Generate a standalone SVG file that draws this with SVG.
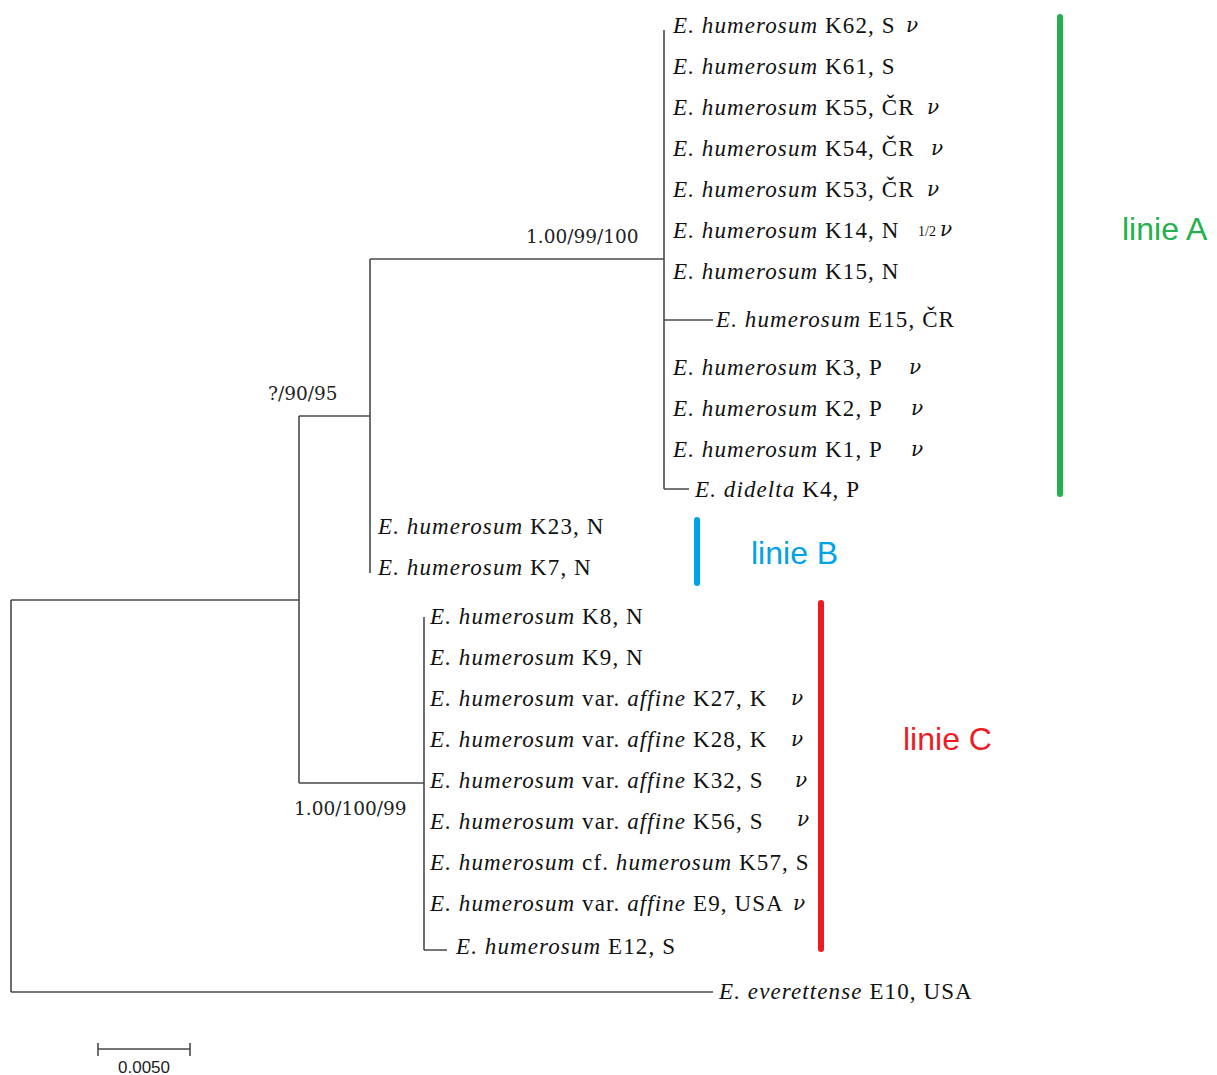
<svg xmlns="http://www.w3.org/2000/svg" width="1217" height="1075" viewBox="0 0 1217 1075">
<style>
.br{stroke:#4a4a4a;stroke-width:1.6;fill:none}
.t{font-family:"Liberation Serif","Times New Roman",serif;font-size:23px;letter-spacing:1.1px;fill:#111}
.t tspan.i{font-style:italic}
.nu{font-family:"DejaVu Serif",serif;font-size:20px;font-style:italic;fill:#111}
.half{font-family:"Liberation Serif","Times New Roman",serif;font-size:14px;fill:#111}
.sup{font-family:"DejaVu Serif",serif;font-size:18.5px;fill:#222}
.ln{font-family:"Liberation Sans",Arial,sans-serif;font-size:32px}
.bar{stroke-width:6;stroke-linecap:round}
</style>
<rect width="1217" height="1075" fill="#fff"/>
<g id="connectors">
<path class="br" d="M11,600 V992 M11,600 H299 M11,992 H713"/>
<path class="br" d="M299,416 V783 M299,416 H370 M299,783 H424"/>
<path class="br" d="M370,259 V573 M370,259 H664"/>
<path class="br" d="M664,30 V489 M664,320 H713 M664,489 H689"/>
<path class="br" d="M424,617 V950 M424,950 H447"/>
</g>
<g id="supports">
<text class="sup" x="526" y="243">1.00/99/100</text>
<text class="sup" x="268" y="400">?/90/95</text>
<text class="sup" x="294" y="815">1.00/100/99</text>
</g>
<g id="cladeA">
<text class="t" x="673" y="33"><tspan class="i">E. humerosum</tspan> K62, S</text>
<text class="nu" x="906" y="32">ν</text>
<text class="t" x="673" y="74"><tspan class="i">E. humerosum</tspan> K61, S</text>
<text class="t" x="673" y="115"><tspan class="i">E. humerosum</tspan> K55, ČR</text>
<text class="nu" x="927" y="114">ν</text>
<text class="t" x="673" y="156"><tspan class="i">E. humerosum</tspan> K54, ČR</text>
<text class="nu" x="931" y="155">ν</text>
<text class="t" x="673" y="197"><tspan class="i">E. humerosum</tspan> K53, ČR</text>
<text class="nu" x="927" y="196">ν</text>
<text class="t" x="673" y="238"><tspan class="i">E. humerosum</tspan> K14, N</text>
<text class="half" x="918" y="236">1/2</text>
<text class="nu" x="940" y="236">ν</text>
<text class="t" x="673" y="279"><tspan class="i">E. humerosum</tspan> K15, N</text>
<text class="t" x="716" y="327"><tspan class="i">E. humerosum</tspan> E15, ČR</text>
<text class="t" x="673" y="375"><tspan class="i">E. humerosum</tspan> K3, P</text>
<text class="nu" x="909" y="374">ν</text>
<text class="t" x="673" y="416"><tspan class="i">E. humerosum</tspan> K2, P</text>
<text class="nu" x="911" y="415">ν</text>
<text class="t" x="673" y="457"><tspan class="i">E. humerosum</tspan> K1, P</text>
<text class="nu" x="911" y="456">ν</text>
<text class="t" x="695" y="497"><tspan class="i">E. didelta</tspan> K4, P</text>
</g>
<g id="cladeB">
<text class="t" x="378" y="534"><tspan class="i">E. humerosum</tspan> K23, N</text>
<text class="t" x="378" y="575"><tspan class="i">E. humerosum</tspan> K7, N</text>
</g>
<g id="cladeC">
<text class="t" x="430" y="624"><tspan class="i">E. humerosum</tspan> K8, N</text>
<text class="t" x="430" y="665"><tspan class="i">E. humerosum</tspan> K9, N</text>
<text class="t" x="430" y="706"><tspan class="i">E. humerosum</tspan> var. <tspan class="i">affine</tspan> K27, K</text>
<text class="nu" x="791" y="705">ν</text>
<text class="t" x="430" y="747"><tspan class="i">E. humerosum</tspan> var. <tspan class="i">affine</tspan> K28, K</text>
<text class="nu" x="791" y="746">ν</text>
<text class="t" x="430" y="788"><tspan class="i">E. humerosum</tspan> var. <tspan class="i">affine</tspan> K32, S</text>
<text class="nu" x="795" y="787">ν</text>
<text class="t" x="430" y="829"><tspan class="i">E. humerosum</tspan> var. <tspan class="i">affine</tspan> K56, S</text>
<text class="nu" x="797" y="826">ν</text>
<text class="t" x="430" y="870"><tspan class="i">E. humerosum</tspan> cf. <tspan class="i">humerosum</tspan> K57, S</text>
<text class="t" x="430" y="911"><tspan class="i">E. humerosum</tspan> var. <tspan class="i">affine</tspan> E9, USA</text>
<text class="nu" x="793" y="910">ν</text>
<text class="t" x="456" y="954"><tspan class="i">E. humerosum</tspan> E12, S</text>
</g>
<g id="outgroup">
<text class="t" x="719" y="999"><tspan class="i">E. everettense</tspan> E10, USA</text>
</g>
<g id="lineA">
<line class="bar" x1="1060" y1="17" x2="1060" y2="494" stroke="#22b14c"/>
<text class="ln" x="1122" y="240" fill="#22b14c">linie A</text>
</g>
<g id="lineB">
<line class="bar" x1="697" y1="520" x2="697" y2="583" stroke="#00a2e8"/>
<text class="ln" x="751" y="564" fill="#00a2e8">linie B</text>
</g>
<g id="lineC">
<line class="bar" x1="821" y1="603" x2="821" y2="949" stroke="#ed1c24"/>
<text class="ln" x="903" y="750" fill="#ed1c24">linie C</text>
</g>
<g id="scale">
<path class="br" d="M98,1049 H190 M98,1043 V1056 M190,1043 V1056"/>
<text x="144" y="1073" text-anchor="middle" font-family="Liberation Sans,Arial,sans-serif" font-size="17" fill="#222">0.0050</text>
</g>
</svg>
